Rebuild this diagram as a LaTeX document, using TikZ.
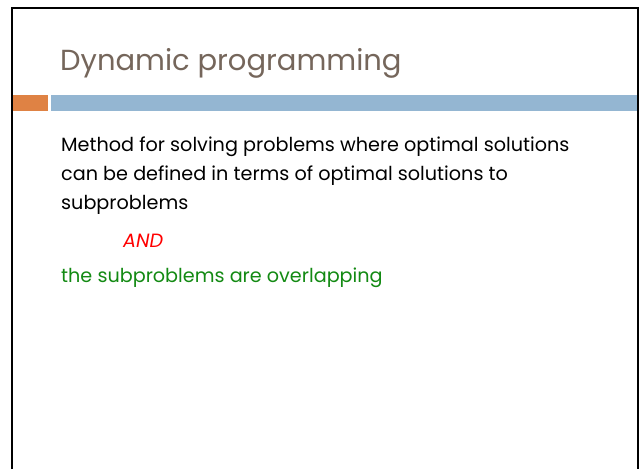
\documentclass[tikz,border=0pt]{standalone}
\usepackage{fontspec}
\setmainfont{Poppins}
\definecolor{titlecol}{HTML}{75665B}
\definecolor{orangebar}{HTML}{DF8244}
\definecolor{bluebar}{HTML}{94B6D2}
\definecolor{andred}{HTML}{FF0000}
\definecolor{greentext}{HTML}{138A13}
\tikzset{
  bodytext/.style={anchor=base west, inner sep=0pt, font=\fontsize{19.2}{22}\selectfont},
  titletext/.style={anchor=base west, inner sep=0pt, text=titlecol, font=\fontsize{29}{34}\selectfont},
  frameline/.style={line width=2pt, black}
}
\begin{document}
\begin{tikzpicture}[x=1pt,y=-1pt]
\useasboundingbox (0,0) rectangle (639,469);
\fill[white] (0,0) rectangle (639,469);
\draw[frameline] (12,469) -- (12,8) -- (638,8) -- (638,469);
\fill[orangebar] (13,95) rectangle (48,111);
\fill[bluebar] (51,95) rectangle (637,111);
\node[titletext] (title) at (60,70) {Dynamic programming};
\node[bodytext] (l1) at (61,151) {Method for solving problems where optimal solutions};
\node[bodytext] (l2) at (61,180) {can be defined in terms of optimal solutions to};
\node[bodytext] (l3) at (61,209) {subproblems};
\node[bodytext, text=andred, font=\fontsize{19.2}{22}\selectfont\itshape] (and) at (123,247) {AND};
\node[bodytext, text=greentext] (l4) at (61,282) {the subproblems are overlapping};
\end{tikzpicture}
\end{document}
